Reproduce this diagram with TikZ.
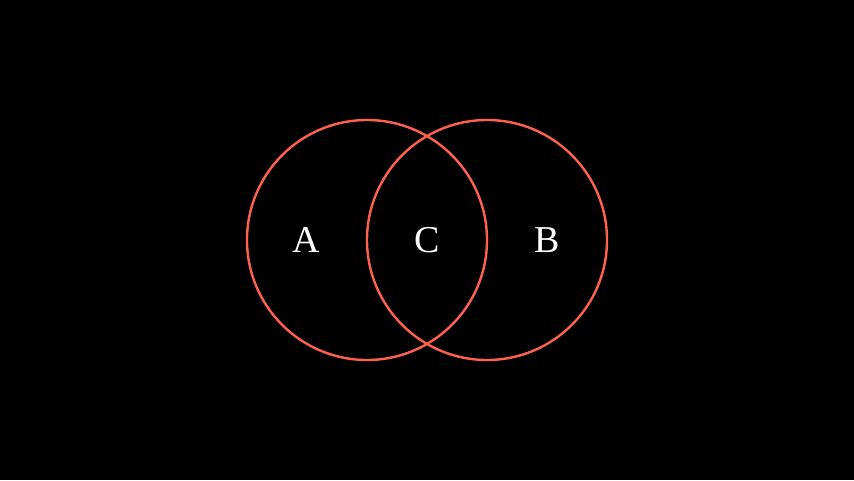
\documentclass[tikz,border=0pt]{standalone}
\usepackage{fontspec}
\setmainfont{Liberation Serif}
\definecolor{ring}{RGB}{255,96,80}
\begin{document}
\begin{tikzpicture}[x=1pt,y=-1pt,
  ring/.style={draw=ring,line width=2.4pt},
  lab/.style={text=white,font=\fontsize{38}{38}\selectfont,inner sep=0pt}]
\fill[black] (0,0) rectangle (854,480);
\useasboundingbox (0,0) rectangle (854,480);
\node[ring,circle,minimum size=240pt,inner sep=0pt] (ca) at (367,240) {};
\node[ring,circle,minimum size=240pt,inner sep=0pt] (cb) at (487,240) {};
\node[lab] (a) at (306,240) {A};
\node[lab] (c) at (427,240) {C};
\node[lab] (b) at (547,240) {B};
\end{tikzpicture}
\end{document}
